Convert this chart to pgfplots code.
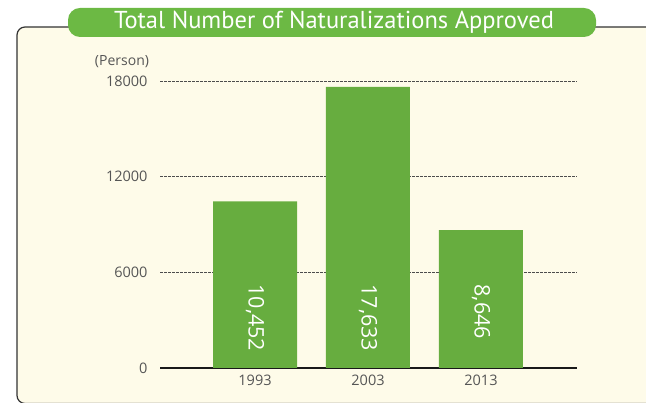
\documentclass[border=0pt]{standalone}
\usepackage{fontspec}
\setmainfont{Open Sans}
\newfontfamily\titlefont{PT Sans}
\usepackage{pgfplots}
\pgfplotsset{compat=1.18}
\definecolor{bargreen}{HTML}{67AD3F}
\definecolor{titlegreen}{HTML}{6CB944}
\definecolor{panel}{HTML}{FEFBE9}
\definecolor{ticktext}{HTML}{555555}

\begin{document}
\begin{tikzpicture}[x=1pt,y=1pt]
\useasboundingbox (0,0) rectangle (646,403);
% cream panel with rounded left corners, running off the right edge
\begin{scope}
  \clip (0,0) rectangle (646,403);
  \draw[fill=panel, draw=black!80, line width=1.2pt, rounded corners=8pt] (17,-0.5) rectangle (680,376);
\end{scope}
% title pill
\fill[titlegreen, rounded corners=12pt] (68,366) rectangle (596,395);
\node[white, font=\titlefont\fontsize{24.5}{26}\selectfont] at (334,380.5) {Total Number of Naturalizations Approved};
\node[text=ticktext, font=\fontsize{14}{16}\selectfont] at (122,341) {(Person)};

\begin{axis}[
    at={(160pt,35pt)}, anchor=south west,
    scale only axis,
    width=417pt, height=287pt,
    xmin=-0.841, xmax=2.85,
    ymin=0, ymax=18000,
    axis x line*=bottom,
    axis y line*=left,
    y axis line style={draw=none},
    x axis line style={line width=2pt, black!90, -},
    major tick length=0pt,
    xtick={0,1,2},
    xticklabels={1993,2003,2013},
    ytick={0,6000,12000,18000},
    scaled y ticks=false,
    ymajorgrids,
    grid style={dash pattern=on 2.5pt off 1.5pt, black!70, line width=0.6pt},
    /pgf/number format/assume math mode=true,
    /pgf/number format/1000 sep={},
    tick label style={text=ticktext, font=\fontsize{14.5}{16}\selectfont},
    yticklabel shift=9pt,
    xticklabel shift=3pt,
    clip=false,
]
\addplot[ybar, bar width=84pt, fill=bargreen, draw=none] coordinates {
    (0,10452) (1,17633) (2,8646)
};
% rotated value labels inside the bars
\addplot[draw=none, mark=none,
    nodes near coords,
    point meta=explicit symbolic,
    nodes near coords style={anchor=west, rotate=-90, text=white,
        font=\fontsize{21.5}{23}\selectfont, inner sep=0pt}
] coordinates {
    (0,5250) [10,452]
    (1,5250) [17,633]
    (2,5250) [8,646]
};
\end{axis}
\end{tikzpicture}
\end{document}
